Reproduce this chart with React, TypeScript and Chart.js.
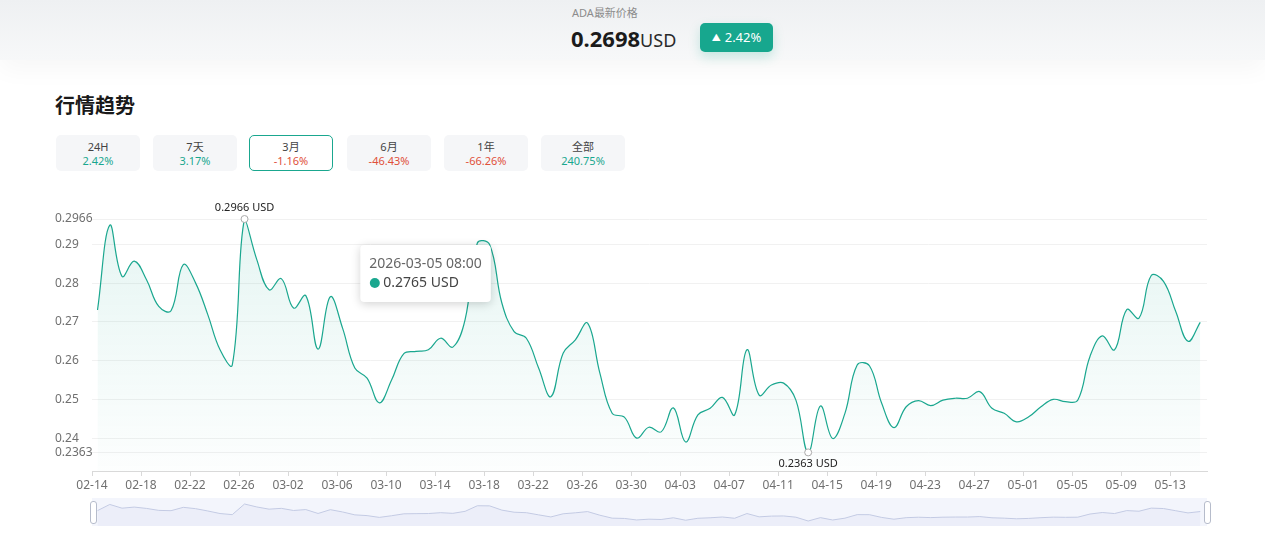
import React, { useEffect, useRef } from "react";
import { Chart, registerables } from "chart.js";

Chart.register(...registerables);

// ---------- data ----------
const START_DATE = Date.UTC(2026, 1, 14); // 2026-02-14
const POINT_HOUR = 8; // each daily price labelled at 08:00
const POINT_POS = 0.45; // fraction of the day at which the sample sits on the axis
const prices = [
  0.2731, 0.2950, 0.2818, 0.2857, 0.2809, 0.2740, 0.2729, 0.2848, 0.2801, 0.2719,
  0.2628, 0.2589, 0.2966, 0.2861, 0.2783, 0.2812, 0.2736, 0.2768, 0.2630, 0.2765,
  0.2684, 0.2581, 0.2555, 0.2491, 0.2550, 0.2618, 0.2624, 0.2628, 0.2658, 0.2635,
  0.2706, 0.2904, 0.2900, 0.2749, 0.2675, 0.2658, 0.2581, 0.2507, 0.2619, 0.2654,
  0.2697, 0.2568, 0.2464, 0.2454, 0.2400, 0.2428, 0.2416, 0.2478, 0.2390, 0.2460,
  0.2477, 0.2505, 0.2460, 0.2628, 0.2511, 0.2537, 0.2542, 0.2498, 0.2363, 0.2483,
  0.2399, 0.2464, 0.2589, 0.2587, 0.2490, 0.2427, 0.2481, 0.2497, 0.2484, 0.2498,
  0.2503, 0.2503, 0.2520, 0.2477, 0.2464, 0.2442, 0.2455, 0.2481, 0.2500, 0.2494,
  0.2498, 0.2611, 0.2664, 0.2628, 0.2732, 0.2710, 0.2820, 0.2805, 0.2727, 0.2650,
  0.2699,
];
const yTickValues = [0.2363, 0.24, 0.25, 0.26, 0.27, 0.28, 0.29, 0.2966];
const xTickDays = [0, 4, 8, 12, 16, 20, 24, 28, 32, 36, 40, 44, 48, 52, 56, 60, 64, 68, 72, 76, 80, 84, 88];
const Y_MIN = 0.2315;
const Y_MAX = 0.2966;
const X_SPAN_DAYS = 91;
const tooltipIndex = 19;

const coinName = "ADA";
const latestPrice = "0.2698";
const latestChange = "2.42%";
const periodLabels = ["24H", "7天", "3月", "6月", "1年", "全部"];
const periodChanges = ["2.42%", "3.17%", "-1.16%", "-46.43%", "-66.26%", "240.75%"];
const selectedPeriod = 2;

// ---------- style ----------
const FONT = "'Noto Sans', 'Noto Sans CJK SC', sans-serif";
const TEAL = "#1aa78f";
const RED = "#e0503a";

function pad2(n: number) {
  return n < 10 ? "0" + n : String(n);
}
function dayLabel(day: number) {
  const d = new Date(START_DATE + Math.round(day) * 86400000);
  return pad2(d.getUTCMonth() + 1) + "-" + pad2(d.getUTCDate());
}
function fullLabel(index: number) {
  const d = new Date(START_DATE + index * 86400000);
  return (
    d.getUTCFullYear() + "-" + pad2(d.getUTCMonth() + 1) + "-" + pad2(d.getUTCDate()) + " " + pad2(POINT_HOUR) + ":00"
  );
}

const points = prices.map((v, i) => ({ x: i + POINT_POS, y: v }));

const markerPlugin = {
  id: "extremes",
  afterDatasetsDraw(chart: any) {
    const meta = chart.getDatasetMeta(0);
    let maxI = 0,
      minI = 0;
    prices.forEach((v, i) => {
      if (v > prices[maxI]) maxI = i;
      if (v < prices[minI]) minI = i;
    });
    const ctx = chart.ctx;
    ctx.save();
    [maxI, minI].forEach((idx, k) => {
      const p = meta.data[idx];
      ctx.beginPath();
      ctx.arc(p.x, p.y, 3.5, 0, Math.PI * 2);
      ctx.fillStyle = "#fff";
      ctx.fill();
      ctx.lineWidth = 1;
      ctx.strokeStyle = "#aaa";
      ctx.stroke();
      ctx.fillStyle = "#222";
      ctx.font = "11px " + FONT;
      ctx.textAlign = "center";
      ctx.textBaseline = "middle";
      const txt = prices[idx] + " USD";
      ctx.fillText(txt, p.x, k === 0 ? p.y - 11 : p.y + 11);
    });
    ctx.restore();
  },
};

const tooltipPlugin = {
  id: "staticTip",
  afterDraw(chart: any) {
    const meta = chart.getDatasetMeta(0);
    const p = meta.data[tooltipIndex];
    const ctx = chart.ctx;
    const line1 = fullLabel(tooltipIndex);
    const line2 = prices[tooltipIndex] + " USD";
    ctx.save();
    ctx.font = "14px " + FONT;
    const w1 = ctx.measureText(line1).width;
    const w2 = ctx.measureText(line2).width + 15;
    const w = Math.max(w1, w2) + 18;
    const h = 57;
    const x = p.x + 30;
    const y = chart.chartArea.top + 26;
    ctx.shadowColor = "rgba(0,0,0,0.18)";
    ctx.shadowBlur = 10;
    ctx.shadowOffsetY = 2;
    ctx.fillStyle = "#fff";
    ctx.beginPath();
    ctx.roundRect(x, y, w, h, 4);
    ctx.fill();
    ctx.shadowColor = "transparent";
    ctx.shadowBlur = 0;
    ctx.shadowOffsetY = 0;
    ctx.textBaseline = "middle";
    ctx.textAlign = "left";
    ctx.fillStyle = "#666";
    ctx.fillText(line1, x + 9, y + 19);
    ctx.beginPath();
    ctx.arc(x + 14.5, y + 38, 5, 0, Math.PI * 2);
    ctx.fillStyle = TEAL;
    ctx.fill();
    ctx.fillStyle = "#444";
    ctx.fillText(line2, x + 23, y + 38);
    ctx.restore();
  },
};

function MainChart() {
  const ref = useRef<HTMLCanvasElement | null>(null);
  useEffect(() => {
    if (!ref.current) return;
    const chart = new Chart(ref.current, {
      type: "line",
      data: {
        datasets: [
          {
            data: points,
            borderColor: TEAL,
            borderWidth: 1.2,
            tension: 0.4,
            pointRadius: 0,
            fill: "start",
            backgroundColor: (c: any) => {
              const area = c.chart.chartArea;
              if (!area) return "rgba(26,167,143,0.06)";
              const g = c.chart.ctx.createLinearGradient(0, area.top, 0, area.bottom);
              g.addColorStop(0, "rgba(26,167,143,0.11)");
              g.addColorStop(1, "rgba(26,167,143,0.01)");
              return g;
            },
          },
        ],
      },
      options: {
        animation: false,
        responsive: false,
        maintainAspectRatio: false,
        layout: { padding: { left: 55, right: 58, top: 29, bottom: 0 } },
        plugins: { legend: { display: false }, tooltip: { enabled: false } },
        scales: {
          x: {
            type: "linear",
            min: 0,
            max: X_SPAN_DAYS,
            afterBuildTicks: (s: any) => {
              s.ticks = xTickDays.map((v) => ({ value: v }));
            },
            afterFit: (s: any) => {
              s.height = 24;
            },
            ticks: {
              color: "#707070",
              font: { size: 12, family: FONT },
              padding: 2,
              maxRotation: 0,
              autoSkip: false,
              callback: (v: any) => dayLabel(Number(v)),
            },
            grid: { drawOnChartArea: false, drawTicks: true, tickLength: 5, color: "#d9d9d9" },
            border: { display: true, color: "#d9d9d9" },
          },
          y: {
            min: Y_MIN,
            max: Y_MAX,
            afterBuildTicks: (s: any) => {
              s.ticks = yTickValues.map((v) => ({ value: v }));
            },
            afterFit: (s: any) => {
              s.width = 37;
            },
            ticks: {
              color: "#707070",
              font: { size: 12, family: FONT },
              padding: 0,
              autoSkip: false,
              crossAlign: "far",
              callback: (v: any) => String(v),
            },
            grid: { color: "#f1f1f1", drawTicks: false },
            border: { display: false },
          },
        },
      } as any,
      plugins: [markerPlugin, tooltipPlugin],
    });
    return () => chart.destroy();
  }, []);
  return (
    <canvas
      ref={ref}
      width={1265}
      height={305}
      style={{ position: "absolute", left: 0, top: 190, width: 1265, height: 305 }}
    />
  );
}

function SliderChart() {
  const ref = useRef<HTMLCanvasElement | null>(null);
  useEffect(() => {
    if (!ref.current) return;
    const chart = new Chart(ref.current, {
      type: "line",
      data: {
        datasets: [
          {
            data: points,
            borderColor: "#c3cae3",
            borderWidth: 1,
            tension: 0,
            pointRadius: 0,
            fill: "start",
            backgroundColor: "rgba(205,212,238,0.18)",
          },
        ],
      },
      options: {
        animation: false,
        responsive: false,
        maintainAspectRatio: false,
        layout: { padding: 0 },
        plugins: { legend: { display: false }, tooltip: { enabled: false } },
        scales: {
          x: { type: "linear", min: 0, max: X_SPAN_DAYS, display: false },
          y: { min: 0.2186, max: 0.3179, display: false },
        },
      } as any,
    });
    return () => chart.destroy();
  }, []);
  return (
    <canvas
      ref={ref}
      width={1115}
      height={28}
      style={{ position: "absolute", left: 92, top: 498, width: 1115, height: 28 }}
    />
  );
}

export default function App() {
  const btnLeft = [56, 153, 249, 347, 444, 541];
  return (
    <div
      style={{
        position: "fixed",
        left: 0,
        top: 0,
        width: 1265,
        height: 545,
        overflow: "hidden",
        background: "#fff",
        fontFamily: FONT,
      }}
    >
      {/* header band */}
      <div
        style={{
          position: "absolute",
          left: 0,
          top: 0,
          width: 1265,
          height: 60,
          background: "linear-gradient(180deg, #eef0f2 0%, #f7f8f9 100%)",
          boxShadow: "0 10px 24px rgba(0,0,0,0.035)",
        }}
      />
      <div
        style={{
          position: "absolute",
          left: 572,
          top: 5,
          fontSize: 11,
          color: "#8c8c8c",
          lineHeight: "16px",
          whiteSpace: "nowrap",
        }}
      >
        {coinName}最新价格
      </div>
      <div
        style={{
          position: "absolute",
          left: 571,
          top: 23,
          lineHeight: "30px",
          whiteSpace: "nowrap",
          color: "#1b1b1b",
        }}
      >
        <span style={{ fontSize: 22, fontWeight: 700 }}>{latestPrice}</span>
        <span style={{ fontSize: 18, fontWeight: 400, color: "#2a2a2a" }}>USD</span>
      </div>
      <div
        style={{
          position: "absolute",
          left: 700,
          top: 23,
          width: 73,
          height: 29,
          borderRadius: 5,
          background: "#17a78e",
          boxShadow: "0 5px 12px rgba(23,167,142,0.22)",
          color: "#fff",
          fontSize: 13,
          lineHeight: "29px",
          textAlign: "center",
          whiteSpace: "nowrap",
        }}
      >
        <span style={{ fontSize: 9, marginRight: 4, position: "relative", top: -1 }}>▲</span>
        {latestChange}
      </div>

      {/* title */}
      <div
        style={{
          position: "absolute",
          left: 55,
          top: 91,
          fontSize: 20,
          fontWeight: 700,
          color: "#1a1a1a",
          lineHeight: "28px",
          fontFamily: "'Noto Sans CJK SC', sans-serif",
        }}
      >
        行情趋势
      </div>

      {/* period buttons */}
      {periodLabels.map((lab, i) => {
        const sel = i === selectedPeriod;
        const ch = periodChanges[i];
        const neg = ch.startsWith("-");
        return (
          <div
            key={lab}
            style={{
              position: "absolute",
              left: btnLeft[i],
              top: 135,
              width: 84,
              height: 36,
              boxSizing: "border-box",
              borderRadius: 5,
              background: sel ? "#fff" : "#f5f6f8",
              border: sel ? "1px solid " + TEAL : "1px solid transparent",
              textAlign: "center",
              fontSize: 11,
              lineHeight: "14px",
              paddingTop: 4,
            }}
          >
            <div style={{ color: "#444" }}>{lab}</div>
            <div style={{ color: neg ? RED : TEAL }}>{ch}</div>
          </div>
        );
      })}

      <MainChart />

      {/* data zoom slider */}
      <div
        style={{
          position: "absolute",
          left: 92,
          top: 498,
          width: 1115,
          height: 28,
          background: "#f3f5fc",
        }}
      />
      <SliderChart />
      <div
        style={{
          position: "absolute",
          left: 90,
          top: 501,
          width: 5,
          height: 21,
          background: "#fff",
          border: "1px solid #b6bccb",
          borderRadius: 3,
        }}
      />
      <div
        style={{
          position: "absolute",
          left: 1204,
          top: 501,
          width: 5,
          height: 21,
          background: "#fff",
          border: "1px solid #b6bccb",
          borderRadius: 3,
        }}
      />
    </div>
  );
}
